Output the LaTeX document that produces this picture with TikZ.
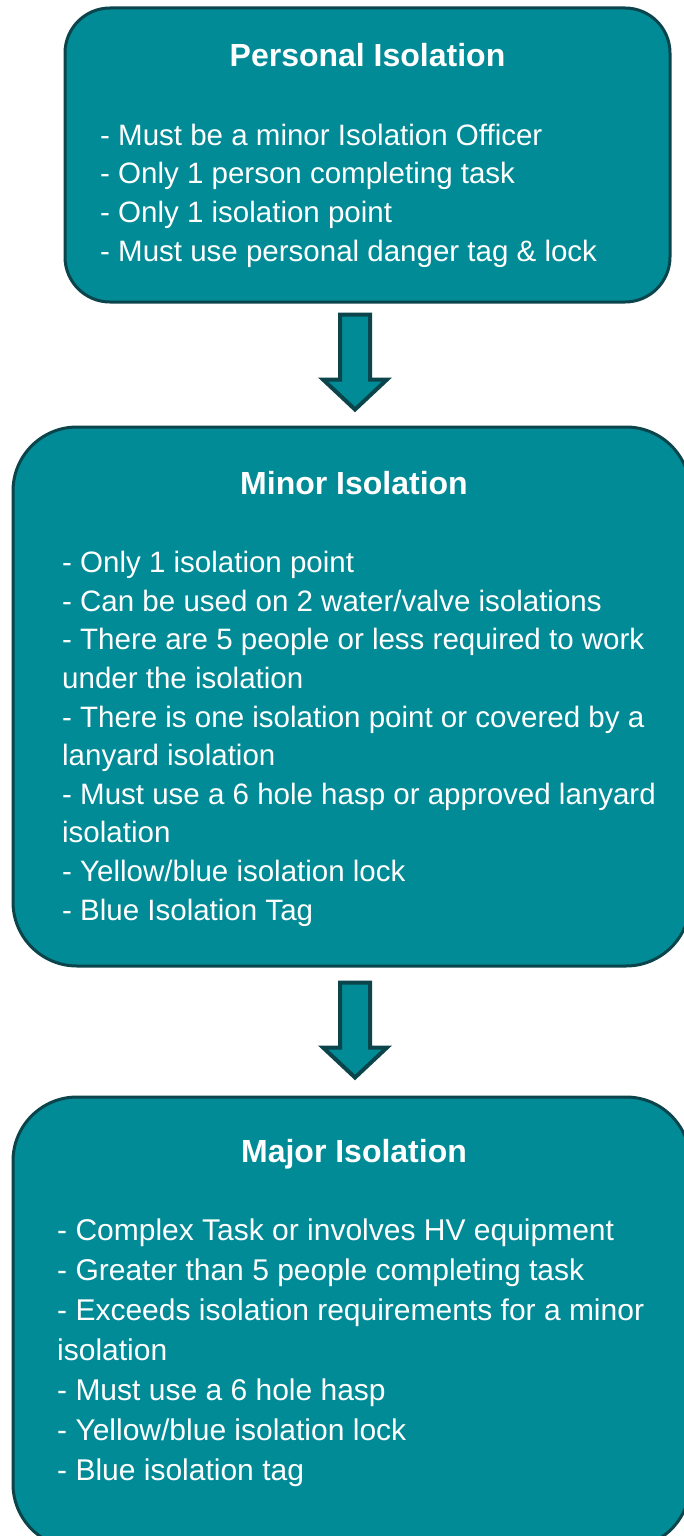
\documentclass[tikz,border=0pt]{standalone}
\usepackage{fontspec}
\setmainfont{Liberation Sans}
\usepackage{tikz}
\usetikzlibrary{positioning,calc}
\definecolor{stagefill}{HTML}{008B96}
\definecolor{stageline}{HTML}{0B454B}
\newcommand{\bodysize}{\fontsize{29.5}{38.6}\selectfont}

\begin{document}
\begin{tikzpicture}[
    x = 1pt, y = -1pt,
    stage/.style =
    { shape      = rectangle,
      draw       = stageline,
      fill       = stagefill,
      line width = 3pt },
    heading/.style =
    { text      = white,
      anchor    = base,
      inner sep = 0pt,
      font      = \bfseries\fontsize{32}{38}\selectfont },
    notes/.style =
    { text      = white,
      align     = left,
      anchor    = north west,
      inner sep = 0pt,
      font      = \bodysize },
    flowarrow/.pic =
    { \draw[stageline, fill = stagefill, line width = 4pt, line join = miter]
        (-15,0) -- (15,0) -- (15,65) -- (32,65) -- (0,95) -- (-32,65)
        -- (-15,65) -- cycle; }
  ]
  \clip (0,0) rectangle (684,1536);

  \node[stage, minimum width = 605pt, minimum height = 294pt,
        rounded corners = 45pt] (personal) at (367.5,155) {};
  \node[stage, minimum width = 677pt, minimum height = 539pt,
        rounded corners = 64pt] (minor) at (351.5,696.5) {};
  \node[stage, minimum width = 677pt, minimum height = 451pt,
        rounded corners = 64pt] (major) at (351.5,1322.5) {};

  \node[heading] (personaltitle) at (367.5,67) {Personal Isolation};
  \node[notes] (personalnotes) at (100,118)
    {\strut- Must be a minor Isolation Officer\\
     - Only 1 person completing task\\
     - Only 1 isolation point\\
     - Must use personal danger tag \& lock};

  \node[heading] (minortitle) at (354,494) {Minor Isolation};
  \node[notes] (minornotes) at (62,545.5)
    {\strut- Only 1 isolation point\\
     - Can be used on 2 water/valve isolations\\
     - There are 5 people or less required to work\\
     under the isolation\\
     - There is one isolation point or covered by a\\
     lanyard isolation\\
     - Must use a 6 hole hasp or approved lanyard\\
     isolation\\
     - Yellow/blue isolation lock\\
     - Blue Isolation Tag};

  \node[heading] (majortitle) at (354,1162) {Major Isolation};
  \node[notes, font = \fontsize{30}{40}\selectfont] (majornotes) at (57,1212.5)
    {\strut- Complex Task or involves HV equipment\\
     - Greater than 5 people completing task\\
     - Exceeds isolation requirements for a minor\\
     isolation\\
     - Must use a 6 hole hasp\\
     - Yellow/blue isolation lock\\
     - Blue isolation tag};

  % block arrows between the stages
  \path (personal.south) ++(-12.5,11) pic {flowarrow};
  \path (minor.south) ++(3.5,15) pic {flowarrow};
\end{tikzpicture}
\end{document}
